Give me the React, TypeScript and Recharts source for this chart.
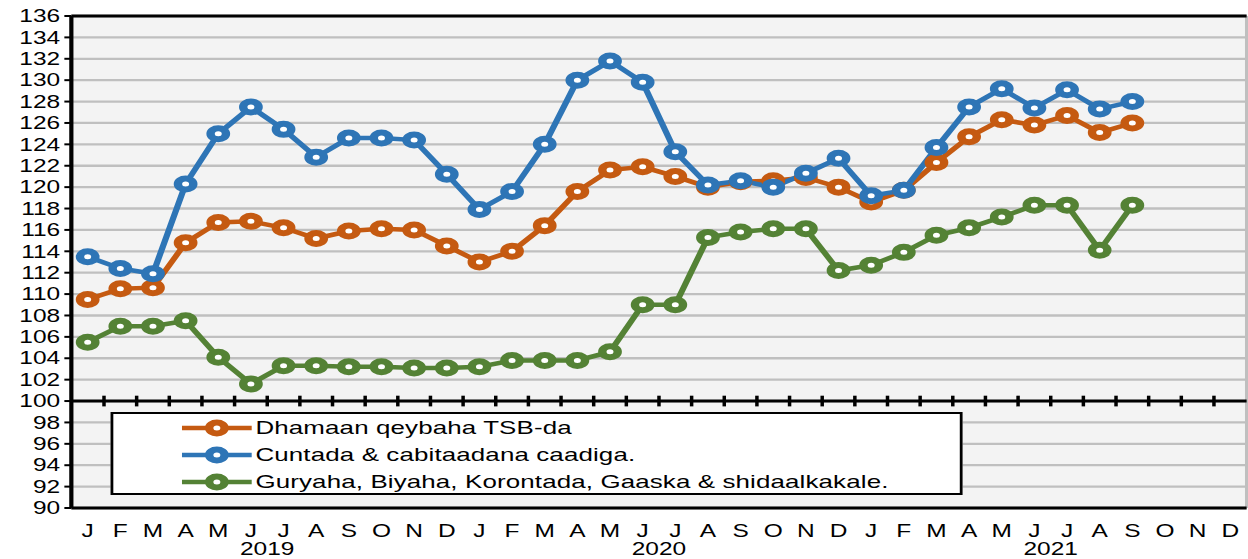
import { LineChart, Line, XAxis, YAxis, CartesianGrid, ReferenceLine, Legend } from 'recharts';

const monthLetters = ['J', 'F', 'M', 'A', 'M', 'J', 'J', 'A', 'S', 'O', 'N', 'D'];
const years = ['2019', '2020', '2021'];
const yTicks = [90, 92, 94, 96, 98, 100, 102, 104, 106, 108, 110, 112, 114, 116, 118, 120, 122, 124, 126, 128, 130, 132, 134, 136];

// Jan 2019 .. Sep 2021
const dhamaan = [109.5, 110.5, 110.6, 114.8, 116.7, 116.8, 116.2, 115.2, 115.9, 116.1, 116.0, 114.5,
  113.0, 114.0, 116.4, 119.6, 121.6, 121.9, 121.0, 120.0, 120.5, 120.6, 120.9, 120.0,
  118.6, 119.7, 122.3, 124.7, 126.3, 125.8, 126.7, 125.1, 126.0];
const cuntada = [113.5, 112.4, 111.9, 120.3, 125.0, 127.5, 125.4, 122.8, 124.6, 124.6, 124.4, 121.2,
  117.9, 119.6, 124.0, 130.0, 131.8, 129.8, 123.3, 120.2, 120.6, 120.0, 121.3, 122.7,
  119.2, 119.7, 123.7, 127.5, 129.2, 127.4, 129.1, 127.3, 128.0];
const guryaha = [105.5, 107.0, 107.0, 107.5, 104.1, 101.6, 103.3, 103.3, 103.2, 103.2, 103.1, 103.1,
  103.2, 103.8, 103.8, 103.8, 104.6, 109.0, 109.0, 115.3, 115.8, 116.1, 116.1, 112.2,
  112.7, 113.9, 115.5, 116.2, 117.2, 118.3, 118.3, 114.1, 118.3];

const series = [
  { key: 'dhamaan', name: 'Dhamaan qeybaha TSB-da', color: '#c55a11' },
  { key: 'cuntada', name: 'Cuntada & cabitaadana caadiga.', color: '#2e75b6' },
  { key: 'guryaha', name: 'Guryaha, Biyaha, Korontada, Gaaska & shidaalkakale.', color: '#548235' },
];

const months = years.flatMap((y) => monthLetters.map((m) => ({ m, y })));
const data = dhamaan.map((v, i) => ({ x: i + 0.5, dhamaan: v, cuntada: cuntada[i], guryaha: guryaha[i] }));

const monthTicks = months.map((_, i) => i + 0.5);
const gridTicks = [...months.map((_, i) => i), months.length];
const yearTicks = years.map((_, i) => i * 12 + 6);
const innerTicks = gridTicks.slice(1, -1);

const W = 892;
const H = 559;
const SX = 1248 / W;
const font = '"Liberation Sans", Arial, sans-serif';

function LegendBox() {
  return (
    <div style={{ boxSizing: 'border-box', width: 609, height: 83, border: '2px solid #000', background: '#fff' }}>
      {series.map((s) => (
        <div key={s.key} style={{ display: 'flex', alignItems: 'center', height: 27, paddingLeft: 49 }}>
          <svg width={50} height={18}>
            <line x1={0} y1={9} x2={50} y2={9} stroke={s.color} strokeWidth={4.5} />
            <circle cx={25} cy={9} r={5.5} fill="#fff" stroke={s.color} strokeWidth={6} />
          </svg>
          <span style={{ marginLeft: 3, fontSize: 18.5, letterSpacing: 0.1, color: '#000', fontFamily: font, whiteSpace: 'nowrap' }}>{s.name}</span>
        </div>
      ))}
    </div>
  );
}

export default function App() {
  return (
    <div style={{ position: 'absolute', left: 0, top: 0, width: W, height: H, transform: `scaleX(${SX})`, transformOrigin: '0 0', fontFamily: font }}>
      <LineChart width={W} height={H} data={data} margin={{ top: 16, right: 1, bottom: 0, left: 0 }}>
        <CartesianGrid xAxisId="g" stroke="#bfbfbf" strokeWidth={2.3} fill="#f3f3f3" />
        <XAxis xAxisId="g" type="number" dataKey="x" domain={[0, 36]} ticks={gridTicks} interval={0} height={0} tick={false} tickLine={false} axisLine={false} />
        <XAxis
          xAxisId="m"
          type="number"
          dataKey="x"
          domain={[0, 36]}
          ticks={monthTicks}
          interval={0}
          height={28}
          tickFormatter={(v: number) => months[Math.floor(v)]?.m ?? ''}
          tickLine={false}
          tickSize={15}
          tickMargin={2}
          axisLine={{ stroke: '#000', strokeWidth: 3 }}
          tick={{ fill: '#000', fontSize: 17.5, fontFamily: font }}
        />
        <XAxis
          xAxisId="y"
          type="number"
          dataKey="x"
          domain={[0, 36]}
          ticks={yearTicks}
          interval={0}
          height={23}
          tickFormatter={(v: number) => years[Math.round((v - 6) / 12)] ?? ''}
          tickLine={false}
          tickSize={5}
          tickMargin={2}
          axisLine={false}
          tick={{ fill: '#000', fontSize: 17.5, fontFamily: font }}
        />
        <YAxis
          type="number"
          domain={[90, 136]}
          ticks={yTicks}
          interval={0}
          width={51}
          tickSize={5}
          tickMargin={3}
          axisLine={{ stroke: '#000', strokeWidth: 3 }}
          tickLine={{ stroke: '#000', strokeWidth: 2 }}
          tick={{ fill: '#000', fontSize: 17.5, fontFamily: font }}
        />
        <ReferenceLine xAxisId="m" y={136} stroke="#000" strokeWidth={3} />
        <ReferenceLine xAxisId="m" y={100} stroke="#000" strokeWidth={3} />
        {innerTicks.map((k) => (
          <ReferenceLine key={k} xAxisId="m" segment={[{ x: k, y: 99.5 }, { x: k, y: 100.5 }]} stroke="#000" strokeWidth={2.5} />
        ))}
        {series.map((s) => (
          <Line
            key={s.key}
            xAxisId="m"
            type="linear"
            dataKey={s.key}
            name={s.name}
            stroke={s.color}
            strokeWidth={4.5}
            dot={{ r: 5.5, strokeWidth: 6, fill: '#fff', stroke: s.color }}
            activeDot={false}
            isAnimationActive={false}
          />
        ))}
        <Legend
          layout="vertical"
          align="center"
          verticalAlign="middle"
          wrapperStyle={{ left: 78.6, top: 412, width: 609, height: 83 }}
          content={() => <LegendBox />}
        />
      </LineChart>
    </div>
  );
}
